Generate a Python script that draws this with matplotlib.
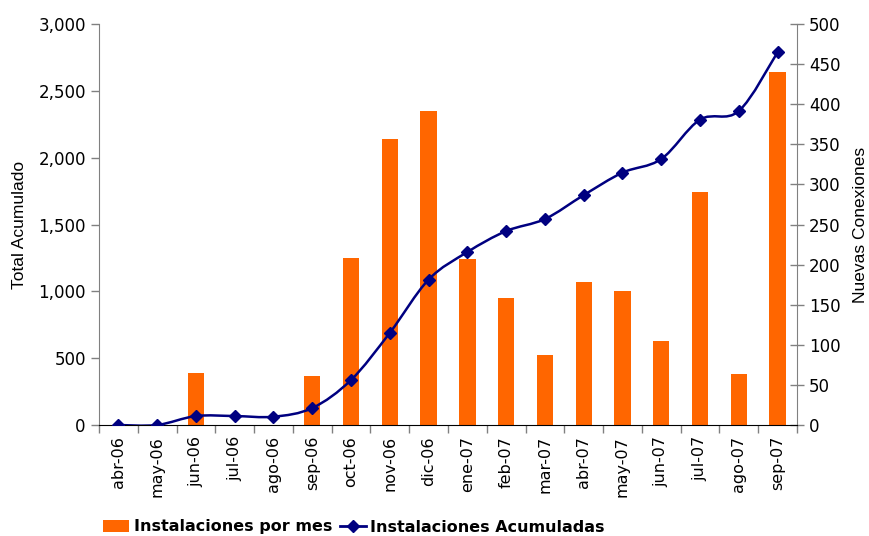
import matplotlib
matplotlib.use("Agg")
import matplotlib.pyplot as plt
from matplotlib.path import Path
from matplotlib.patches import PathPatch, Patch
from matplotlib.lines import Line2D
from matplotlib.ticker import FuncFormatter, FixedLocator, NullFormatter
import numpy as np

months = ["abr-06", "may-06", "jun-06", "jul-06", "ago-06", "sep-06", "oct-06",
          "nov-06", "dic-06", "ene-07", "feb-07", "mar-07", "abr-07", "may-07",
          "jun-07", "jul-07", "ago-07", "sep-07"]
monthly = [0, 0, 65, 0, 0, 61, 208, 356, 392, 207, 158, 87, 178, 167, 105, 291, 64, 440]
cumulative = [0, 0, 67, 67, 62, 127, 337, 690, 1088, 1294, 1451, 1541, 1720, 1888,
              1990, 2285, 2349, 2789]
left_ticks = [0, 500, 1000, 1500, 2000, 2500, 3000]
right_ticks = [0, 50, 100, 150, 200, 250, 300, 350, 400, 450, 500]

BAR = "#FF6600"
LINE = "#000080"
AX_GRAY = "#808080"

fig = plt.figure(figsize=(8.7, 5.36), dpi=100)
ax = fig.add_axes([99/870, 1-425/536, (797-99)/870, 401/536])
ax2 = ax.twinx()

x = np.arange(len(months))

# bars on right axis
ax2.bar(x, monthly, width=0.42, color=BAR, zorder=2)
ax2.set_ylim(0, 500)
ax2.set_yticks(right_ticks)

# smooth cumulative line on left axis (Catmull-Rom -> Bezier)
def smooth_path(xs, ys):
    pts = np.column_stack([xs, ys]).astype(float)
    n = len(pts)
    verts = [pts[0]]
    codes = [Path.MOVETO]
    for i in range(n - 1):
        p0 = pts[i - 1] if i > 0 else pts[i]
        p1 = pts[i]
        p2 = pts[i + 1]
        p3 = pts[i + 2] if i + 2 < n else pts[i + 1]
        c1 = p1 + (p2 - p0) / 6.0
        c2 = p2 - (p3 - p1) / 6.0
        verts += [c1, c2, p2]
        codes += [Path.CURVE4] * 3
    return Path(verts, codes)

ax.add_patch(PathPatch(smooth_path(x, cumulative), facecolor="none",
                       edgecolor=LINE, lw=1.8, zorder=3))
ax.plot(x, cumulative, linestyle="none", marker="D", markersize=6,
        color=LINE, zorder=4)
ax.set_ylim(0, 3000)
ax.set_xlim(-0.5, len(months) - 0.5)
ax.set_yticks(left_ticks)
ax.yaxis.set_major_formatter(FuncFormatter(lambda v, p: f"{v:,.0f}"))

ax.set_zorder(ax2.get_zorder() + 1)
ax.patch.set_visible(False)

# x ticks: marks at boundaries, labels at centers
ax.xaxis.set_major_locator(FixedLocator(np.arange(-0.5, len(months), 1.0)))
ax.xaxis.set_major_formatter(NullFormatter())
ax.xaxis.set_minor_locator(FixedLocator(x))
ax.set_xticklabels(months, minor=True, rotation=90)
ax.tick_params(axis="x", which="major", length=6, width=1, color=AX_GRAY, direction="out")
ax.tick_params(axis="x", which="minor", length=0, pad=8, labelsize=11.5,
               labelcolor="black")
ax.tick_params(axis="y", which="major", length=6, width=1, color=AX_GRAY,
               direction="out", labelsize=12)
ax2.tick_params(axis="y", which="major", length=10, width=1, color=AX_GRAY,
                direction="inout", labelsize=12)

for a in (ax, ax2):
    a.spines["top"].set_visible(False)
    a.spines["left"].set_color(AX_GRAY)
    a.spines["right"].set_color(AX_GRAY)
    a.spines["bottom"].set_color("black")
ax.spines["right"].set_visible(False)
ax2.spines["left"].set_visible(False)
ax2.spines["bottom"].set_visible(False)

ax.set_ylabel("Total Acumulado", family="Liberation Sans", fontsize=12.5, labelpad=8)
ax2.set_ylabel("Nuevas Conexiones", family="Liberation Sans", fontsize=12.5, labelpad=9)

handles = [Patch(facecolor=BAR, edgecolor="none"),
           Line2D([], [], color=LINE, lw=2, marker="D", markersize=6)]
fig.legend(handles, ["Instalaciones por mes", "Instalaciones Acumuladas"],
           loc="center left", bbox_to_anchor=(97/870, 1-527/536), ncol=2,
           frameon=False, prop={"weight": "bold", "size": 11.5},
           handlelength=1.6, handletextpad=0.3, columnspacing=0.5,
           borderaxespad=0)

fig.savefig("out.png", dpi=100)
